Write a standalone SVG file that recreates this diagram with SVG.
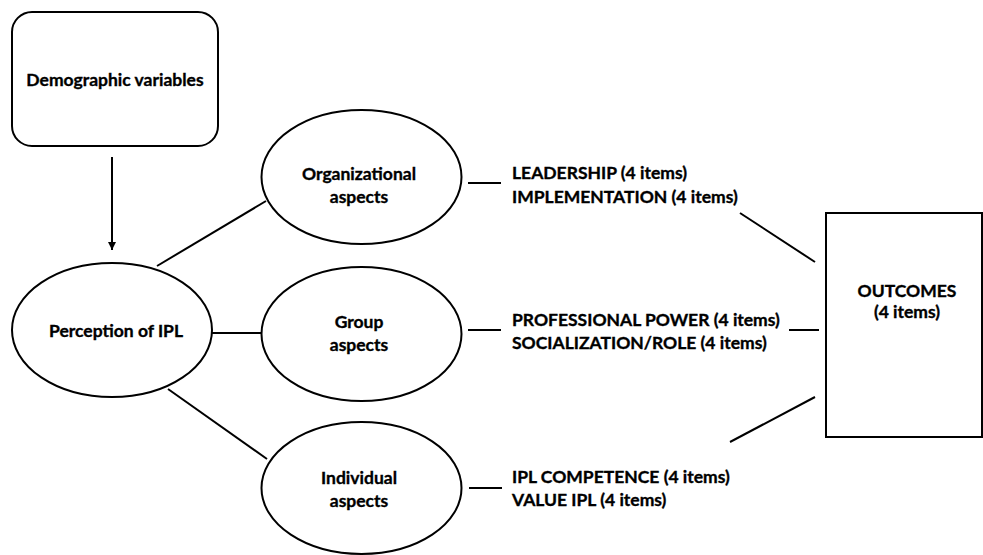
<svg xmlns="http://www.w3.org/2000/svg" width="983" height="555" viewBox="0 0 983 555">
  <style>
    .shape { fill: #ffffff; stroke: #000000; stroke-width: 2; }
    .link { stroke: #000000; stroke-width: 2; fill: none; }
    text { font-family: Lato, "Open Sans", "Liberation Sans", sans-serif; font-weight: bold; font-size: 17.5px; fill: #000000; stroke: #000000; stroke-width: 0.35; }
    .mid { text-anchor: middle; }
  </style>
  <defs>
    <marker id="arrowhead" viewBox="0 0 10 10" refX="10" refY="5" markerWidth="4" markerHeight="4" orient="auto" markerUnits="strokeWidth">
      <path d="M0,0 L10,5 L0,10 Z" fill="#000000"/>
    </marker>
  </defs>

  <rect width="983" height="555" fill="#ffffff"/>

  <!-- connectors -->
  <g id="connectors">
    <line class="link" x1="112" y1="157" x2="112" y2="250" marker-end="url(#arrowhead)"/>
    <line class="link" x1="157" y1="266" x2="266" y2="201"/>
    <line class="link" x1="212" y1="333" x2="262" y2="333"/>
    <line class="link" x1="168" y1="389" x2="267" y2="459"/>
    <line class="link" x1="468" y1="183" x2="501" y2="183"/>
    <line class="link" x1="468" y1="330" x2="501" y2="330"/>
    <line class="link" x1="469" y1="488" x2="502" y2="488"/>
    <line class="link" x1="740" y1="213" x2="815" y2="262"/>
    <line class="link" x1="789" y1="330" x2="819" y2="330"/>
    <line class="link" x1="730" y1="442" x2="815" y2="397"/>
  </g>

  <!-- nodes -->
  <g id="demographic">
    <rect class="shape" x="12" y="12" width="206" height="134" rx="20" ry="20"/>
    <text class="mid" x="115" y="86">Demographic variables</text>
  </g>

  <g id="perception">
    <ellipse class="shape" cx="112" cy="330" rx="100" ry="67"/>
    <text class="mid" x="116" y="337">Perception of IPL</text>
  </g>

  <g id="organizational">
    <ellipse class="shape" cx="361.5" cy="177" rx="100" ry="67"/>
    <text class="mid" x="359" y="180">Organizational</text>
    <text class="mid" x="359" y="203">aspects</text>
  </g>

  <g id="group">
    <ellipse class="shape" cx="361.5" cy="334" rx="100" ry="67"/>
    <text class="mid" x="359" y="328">Group</text>
    <text class="mid" x="359" y="351">aspects</text>
  </g>

  <g id="individual">
    <ellipse class="shape" cx="361.5" cy="488" rx="100" ry="66"/>
    <text class="mid" x="359" y="484">Individual</text>
    <text class="mid" x="359" y="507">aspects</text>
  </g>

  <g id="org-items">
    <text x="512" y="179">LEADERSHIP (4 items)</text>
    <text x="512" y="203">IMPLEMENTATION (4 items)</text>
  </g>

  <g id="group-items">
    <text x="512" y="326">PROFESSIONAL POWER (4 items)</text>
    <text x="512" y="349">SOCIALIZATION/ROLE (4 items)</text>
  </g>

  <g id="individual-items">
    <text x="512" y="483">IPL COMPETENCE (4 items)</text>
    <text x="512" y="506">VALUE IPL (4 items)</text>
  </g>

  <g id="outcomes">
    <rect class="shape" x="826" y="213" width="156" height="224"/>
    <text class="mid" x="907" y="297">OUTCOMES</text>
    <text class="mid" x="907" y="318">(4 items)</text>
  </g>
</svg>
